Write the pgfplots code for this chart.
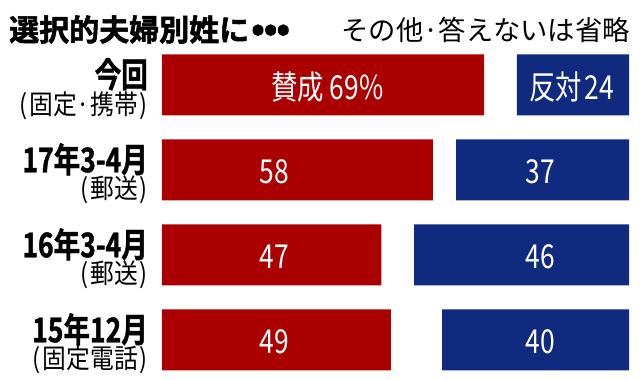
\documentclass[border=0pt]{standalone}
\usepackage{pgfplots}
\pgfplotsset{compat=1.18}
\usepackage{fontspec}
\setmainfont{Noto Sans CJK JP}
\newfontfamily\cond[FakeStretch=0.8]{Noto Sans CJK JP}
\newfontfamily\condr[FakeStretch=0.88]{Noto Sans CJK JP}
\newfontfamily\condb[FakeStretch=0.78,FakeBold=1.2]{Noto Sans CJK JP Bold}
\newfontfamily\titlef[FakeBold=1.8]{Noto Sans CJK JP Bold}
\definecolor{myred}{RGB}{170,0,0}
\definecolor{myblue}{RGB}{16,42,128}
\newcommand{\lA}[1]{{\condb\fontsize{34}{31}\selectfont #1}}
\newcommand{\lB}[1]{{\condr\fontsize{27}{31}\selectfont (\kern2pt#1\kern2pt)}}
\begin{document}
\begin{tikzpicture}
\useasboundingbox (0,0) rectangle (640pt,-380pt);
\node[anchor=west,inner sep=0pt,font={\titlef\fontsize{30}{30}\selectfont}] at (9pt,-29.5pt) {選択的夫婦別姓に\kern2pt{\fontsize{36}{30}\selectfont •\kern-1pt•\kern-1pt•}};
\node[anchor=east,inner sep=0pt,font={\fontsize{27.3}{28}\selectfont}] at (630pt,-29.5pt) {その他·答えないは省略};
\begin{axis}[
  at={(162pt,-55pt)}, anchor=north west,
  scale only axis, width=467pt, height=340pt,
  xbar stacked, bar width=61pt,
  xmin=0, xmax=100, ymin=-0.35, ymax=3.65, y dir=reverse,
  axis line style={draw=none}, xtick=\empty, ytick={0,1,2,3},
  major tick length=0pt,
  yticklabels={
    {\lA{今回}\\\lB{固定·携帯}},
    {\lA{17年3-4月}\\\lB{郵送}},
    {\lA{16年3-4月}\\\lB{郵送}},
    {\lA{15年12月}\\\lB{固定電話}}},
  yticklabel style={align=right, anchor=east, inner sep=0pt, xshift=-14pt, yshift=-4pt},
  clip=false,
]
\addplot[fill=myred, draw=none] coordinates {(69,0) (58,1) (47,2) (49,3)};
\addplot[fill=none, draw=none] coordinates {(7,0) (5,1) (7,2) (11,3)};
\addplot[fill=myblue, draw=none] coordinates {(24,0) (37,1) (46,2) (40,3)};
\end{axis}
\begin{axis}[
  at={(162pt,-55pt)}, anchor=north west,
  scale only axis, width=467pt, height=340pt,
  xmin=0, xmax=100, ymin=-0.35, ymax=3.65, y dir=reverse,
  hide axis, clip=false,
  nodes near coords, point meta=explicit symbolic,
  every node near coord/.append style={anchor=center, text=white, yshift=-2pt, font={\cond\fontsize{33}{34}\selectfont}},
]
\addplot[draw=none, mark=none] coordinates {(35.4,0) [賛成 69\%] (24,1) [58] (24,2) [47] (24,3) [49]};
\addplot[draw=none, mark=none] coordinates {(87.7,0) [反対\kern3pt 24] (81,1) [37] (81,2) [46] (81,3) [40]};
\end{axis}
\end{tikzpicture}
\end{document}
